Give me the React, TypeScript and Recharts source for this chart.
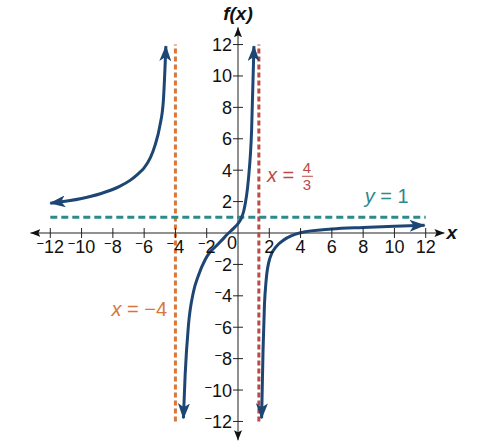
import React from "react";
import {
  ComposedChart,
  Line,
  ReferenceDot,
  ReferenceLine,
  Scatter,
  XAxis,
  YAxis,
} from "recharts";

// branches of the graph
const leftX = [-12, -10, -8.8, -7.6, -6.9, -6.4, -6.0, -5.6, -5.3, -5.0, -4.77, -4.61];
const leftY = [1.9, 2.2, 2.5, 2.95, 3.35, 3.75, 4.15, 4.8, 5.6, 6.8, 8.45, 11.9];

const midX = [-3.49, -3.38, -3.17, -2.85, -2.53, -2.1, -1.79, -1.36, -1.0, -0.65, -0.3, 0, 0.2, 0.38, 0.66, 0.87, 1.02];
const midY = [-11.8, -9.06, -5.9, -3.76, -2.7, -1.7, -1.21, -0.8, -0.42, -0.05, 0.28, 0.6, 0.92, 1.45, 3.36, 6.54, 11.9];

const rightX = [1.51, 1.6, 1.69, 1.8, 2.04, 2.5, 2.9, 4, 6, 8, 10, 11.93];
const rightY = [-11.8, -7.5, -4.6, -3.0, -1.6, -0.8, -0.46, 0.02, 0.25, 0.35, 0.43, 0.49];

const xTicks = [-12, -10, -8, -6, -4, -2, 2, 4, 6, 8, 10, 12];
const yTicks = [-12, -10, -8, -6, -4, -2, 2, 4, 6, 8, 10, 12];

const toPoints = (xs: number[], ys: number[]) => xs.map((x, i) => ({ x, y: ys[i] }));

const leftData = toPoints(leftX, leftY);
const midData = toPoints(midX, midY);
const rightData = toPoints(rightX, rightY);
const xAxisLine = [{ x: -13.27, y: 0 }, { x: 13.2, y: 0 }];
const yAxisLine = [{ x: 0, y: -13.2 }, { x: 0, y: 13.1 }];
const xTickData = xTicks.map((v) => ({ x: v, y: 0 }));
const yTickData = yTicks.map((v) => ({ x: 0, y: v }));

const FONT = "'Liberation Sans', Arial, sans-serif";
const BLUE = "#1d4674";
const ORANGE = "#d8773b";
const RED = "#bb4a47";
const TEAL = "#2b8a8a";

function TickNum({ v }: { v: number }) {
  if (v < 0) {
    return (
      <>
        <tspan fontSize={13} dy={-5}>−</tspan>
        <tspan dy={5}>{Math.abs(v)}</tspan>
      </>
    );
  }
  return <>{v}</>;
}

const XTick = (props: any) => {
  const { cx, cy, payload } = props;
  return (
    <g>
      <line x1={cx} x2={cx} y1={cy - 5} y2={cy + 5} stroke="#222" strokeWidth={1} />
      <text x={cx} y={cy + 20} textAnchor="middle" fontSize={18} fontFamily={FONT} fill="#111">
        <TickNum v={payload.x} />
      </text>
    </g>
  );
};

const YTick = (props: any) => {
  const { cx, cy, payload } = props;
  return (
    <g>
      <line x1={cx - 5} x2={cx + 5} y1={cy} y2={cy} stroke="#222" strokeWidth={1} />
      <text x={cx - 6} y={cy + 6.5} textAnchor="end" fontSize={18} fontFamily={FONT} fill="#111">
        <TickNum v={payload.y} />
      </text>
    </g>
  );
};

export default function App() {
  return (
    <div style={{ position: "absolute", left: 0, top: 0, width: 487, height: 445, background: "#fff" }}>
      <svg width={0} height={0} style={{ position: "absolute" }}>
        <defs>
          <marker
            id="curveArrow"
            markerUnits="userSpaceOnUse"
            markerWidth={16}
            markerHeight={12}
            viewBox="0 0 16 12"
            refX={15}
            refY={6}
            orient="auto-start-reverse"
          >
            <path d="M0,0 L16,6 L0,12 L4,6 Z" fill={BLUE} />
          </marker>
          <marker
            id="axisArrow"
            markerUnits="userSpaceOnUse"
            markerWidth={10}
            markerHeight={8}
            viewBox="0 0 10 8"
            refX={10}
            refY={4}
            orient="auto-start-reverse"
          >
            <path d="M0,0 L10,4 L0,8 L2,4 Z" fill="#111" />
          </marker>
        </defs>
      </svg>
      <ComposedChart width={487} height={445} margin={{ top: 21, right: 30, bottom: 0, left: 19 }}>
        <XAxis type="number" dataKey="x" domain={[-14, 14]} hide allowDataOverflow />
        <YAxis type="number" dataKey="y" domain={[-13.5, 13.5]} hide allowDataOverflow />

        <Line data={xAxisLine} dataKey="y" type="linear" stroke="#222" strokeWidth={1} dot={false} activeDot={false}
          markerStart="url(#axisArrow)" markerEnd="url(#axisArrow)" isAnimationActive={false} />
        <Line data={yAxisLine} dataKey="y" type="linear" stroke="#222" strokeWidth={1} dot={false} activeDot={false}
          markerStart="url(#axisArrow)" markerEnd="url(#axisArrow)" isAnimationActive={false} />

        <Scatter data={xTickData} dataKey="y" shape={XTick} isAnimationActive={false} />
        <Scatter data={yTickData} dataKey="y" shape={YTick} isAnimationActive={false} />

        <ReferenceLine segment={[{ x: -4, y: -12 }, { x: -4, y: 12 }]} stroke={ORANGE} strokeWidth={3} strokeDasharray="5 3" />
        <ReferenceLine segment={[{ x: 4 / 3, y: -12 }, { x: 4 / 3, y: 12 }]} stroke={RED} strokeWidth={3} strokeDasharray="5 3" />
        <ReferenceLine segment={[{ x: -12, y: 1 }, { x: 12, y: 1 }]} stroke={TEAL} strokeWidth={3} strokeDasharray="7 4" />

        {[leftData, midData, rightData].map((d, i) => (
          <Line key={i} data={d} dataKey="y" type="monotone" stroke={BLUE} strokeWidth={3} dot={false} activeDot={false}
            markerStart="url(#curveArrow)" markerEnd="url(#curveArrow)" isAnimationActive={false} />
        ))}

        <ReferenceDot x={0} y={0} r={0} shape={(p: any) => (
          <text x={p.cx - 6} y={p.cy + 16} textAnchor="middle" fontSize={18} fontFamily={FONT} fill="#111">0</text>
        )} />
        <ReferenceDot x={0} y={13.1} r={0} ifOverflow="visible" shape={(p: any) => (
          <text x={p.cx} y={p.cy - 7} textAnchor="middle" fontSize={19} fontWeight="bold" fontStyle="italic" fontFamily={FONT} fill="#111">f(x)</text>
        )} />
        <ReferenceDot x={13.2} y={0} r={0} ifOverflow="visible" shape={(p: any) => (
          <text x={p.cx + 2} y={p.cy + 6} fontSize={19} fontWeight="bold" fontStyle="italic" fontFamily={FONT} fill="#111">x</text>
        )} />

        <ReferenceDot x={-4.53} y={-5.31} r={0} shape={(p: any) => (
          <text x={p.cx} y={p.cy} textAnchor="end" fontSize={20} fontFamily={FONT} fill={ORANGE}>
            <tspan fontStyle="italic">x</tspan> = −4
          </text>
        )} />
        <ReferenceDot x={1.85} y={3.23} r={0} shape={(p: any) => (
          <g fontFamily={FONT} fill={RED}>
            <text x={p.cx} y={p.cy} fontSize={20}>
              <tspan fontStyle="italic">x</tspan> =
            </text>
            <text x={p.cx + 40} y={p.cy - 9} fontSize={15} textAnchor="middle">4</text>
            <line x1={p.cx + 35} x2={p.cx + 46} y1={p.cy - 6} y2={p.cy - 6} stroke={RED} strokeWidth={1} />
            <text x={p.cx + 40} y={p.cy + 8} fontSize={15} textAnchor="middle">3</text>
          </g>
        )} />
        <ReferenceDot x={8.1} y={1.9} r={0} shape={(p: any) => (
          <text x={p.cx} y={p.cy} fontSize={20} fontFamily={FONT} fill={TEAL}>
            <tspan fontStyle="italic">y</tspan> = 1
          </text>
        )} />
      </ComposedChart>
    </div>
  );
}
